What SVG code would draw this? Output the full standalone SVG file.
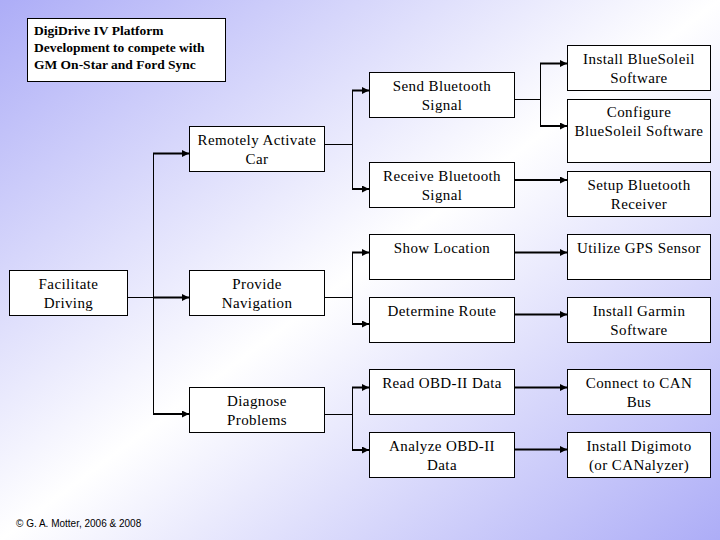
<svg xmlns="http://www.w3.org/2000/svg" width="720" height="540" viewBox="0 0 720 540">
<defs>
<linearGradient id="bg" x1="0" y1="0" x2="1" y2="1">
<stop offset="0" stop-color="#adadf7"/>
<stop offset="0.5" stop-color="#ffffff"/>
<stop offset="1" stop-color="#adadf7"/>
</linearGradient>
<marker id="ah" markerUnits="userSpaceOnUse" markerWidth="8" markerHeight="7" refX="7" refY="3.5" orient="auto">
<path d="M0,0 L7,3.5 L0,7 z" fill="#000"/>
</marker>
<style>
.box{fill:#fff;stroke:#000;stroke-width:1}
.t{font-family:"Liberation Serif","Times New Roman",serif;font-size:15px;letter-spacing:0.4px;text-anchor:middle;fill:#000}
.title{font-family:"Liberation Serif","Times New Roman",serif;font-size:13.5px;font-weight:bold;fill:#000}
.thin{stroke:#000;stroke-width:1;fill:none}
.arr{stroke:#000;stroke-width:2;fill:none;marker-end:url(#ah)}
.foot{font-family:"Liberation Sans",Arial,sans-serif;font-size:10px;fill:#000}
</style>
</defs>
<rect x="0" y="0" width="720" height="540" fill="url(#bg)"/>

<g id="title">
<rect class="box" x="27.5" y="18.5" width="198" height="63"/>
<text class="title" x="34" y="35">DigiDrive IV Platform</text>
<text class="title" x="34" y="52">Development to compete with</text>
<text class="title" x="34" y="69">GM On-Star and Ford Sync</text>
</g>

<g id="connectors">
<line class="thin" x1="127" y1="297.5" x2="153.5" y2="297.5"/>
<line class="thin" x1="153.5" y1="153" x2="153.5" y2="414.5"/>
<line class="arr" x1="153" y1="153.5" x2="189" y2="153.5"/>
<line class="arr" x1="153" y1="297.5" x2="189" y2="297.5"/>
<line class="arr" x1="153" y1="414" x2="189" y2="414"/>

<line class="thin" x1="324" y1="144.5" x2="352.5" y2="144.5"/>
<line class="thin" x1="352.5" y1="90" x2="352.5" y2="189.5"/>
<line class="arr" x1="352" y1="90.5" x2="369" y2="90.5"/>
<line class="arr" x1="352" y1="189" x2="369" y2="189"/>

<line class="thin" x1="514" y1="99.5" x2="540.5" y2="99.5"/>
<line class="thin" x1="540.5" y1="63" x2="540.5" y2="126.5"/>
<line class="arr" x1="540" y1="63.5" x2="567" y2="63.5"/>
<line class="arr" x1="540" y1="126" x2="567" y2="126"/>
<line class="arr" x1="514" y1="180" x2="567" y2="180"/>

<line class="thin" x1="324" y1="297.5" x2="352.5" y2="297.5"/>
<line class="thin" x1="352.5" y1="252" x2="352.5" y2="324.5"/>
<line class="arr" x1="352" y1="252.5" x2="369" y2="252.5"/>
<line class="arr" x1="352" y1="324" x2="369" y2="324"/>
<line class="arr" x1="514" y1="252.5" x2="567" y2="252.5"/>
<line class="arr" x1="514" y1="314.5" x2="567" y2="314.5"/>

<line class="thin" x1="324" y1="414.5" x2="352.5" y2="414.5"/>
<line class="thin" x1="352.5" y1="387" x2="352.5" y2="450.5"/>
<line class="arr" x1="352" y1="387.5" x2="369" y2="387.5"/>
<line class="arr" x1="352" y1="450" x2="369" y2="450"/>
<line class="arr" x1="514" y1="387.5" x2="567" y2="387.5"/>
<line class="arr" x1="514" y1="449.5" x2="567" y2="449.5"/>
</g>

<g id="facilitate">
<rect class="box" x="9.5" y="270.5" width="118" height="45"/>
<text class="t" x="68.5" y="289">Facilitate</text>
<text class="t" x="68.5" y="308">Driving</text>
</g>

<g id="remotely">
<rect class="box" x="189.5" y="126.5" width="135" height="45"/>
<text class="t" x="257" y="145">Remotely Activate</text>
<text class="t" x="257" y="164">Car</text>
</g>
<g id="provide">
<rect class="box" x="189.5" y="270.5" width="135" height="45"/>
<text class="t" x="257" y="289">Provide</text>
<text class="t" x="257" y="308">Navigation</text>
</g>
<g id="diagnose">
<rect class="box" x="189.5" y="387.5" width="135" height="45"/>
<text class="t" x="257" y="406">Diagnose</text>
<text class="t" x="257" y="425">Problems</text>
</g>

<g id="send">
<rect class="box" x="369.5" y="72.5" width="145" height="45"/>
<text class="t" x="442" y="91">Send Bluetooth</text>
<text class="t" x="442" y="110">Signal</text>
</g>
<g id="receive">
<rect class="box" x="369.5" y="162.5" width="145" height="45"/>
<text class="t" x="442" y="181">Receive Bluetooth</text>
<text class="t" x="442" y="200">Signal</text>
</g>
<g id="show">
<rect class="box" x="369.5" y="234.5" width="145" height="45"/>
<text class="t" x="442" y="253">Show Location</text>
</g>
<g id="determine">
<rect class="box" x="369.5" y="297.5" width="145" height="45"/>
<text class="t" x="442" y="316">Determine Route</text>
</g>
<g id="read">
<rect class="box" x="369.5" y="369.5" width="145" height="45"/>
<text class="t" x="442" y="388">Read OBD-II Data</text>
</g>
<g id="analyze">
<rect class="box" x="369.5" y="432.5" width="145" height="45"/>
<text class="t" x="442" y="451">Analyze OBD-II</text>
<text class="t" x="442" y="470">Data</text>
</g>

<g id="install-bluesoleil">
<rect class="box" x="567.5" y="45.5" width="143" height="45"/>
<text class="t" x="639" y="64">Install BlueSoleil</text>
<text class="t" x="639" y="83">Software</text>
</g>
<g id="configure">
<rect class="box" x="567.5" y="99.5" width="143" height="63"/>
<text class="t" x="639" y="117">Configure</text>
<text class="t" x="639" y="136">BlueSoleil Software</text>
</g>
<g id="setup">
<rect class="box" x="567.5" y="171.5" width="143" height="45"/>
<text class="t" x="639" y="190">Setup Bluetooth</text>
<text class="t" x="639" y="209">Receiver</text>
</g>
<g id="utilize">
<rect class="box" x="567.5" y="234.5" width="143" height="45"/>
<text class="t" x="639" y="253">Utilize GPS Sensor</text>
</g>
<g id="garmin">
<rect class="box" x="567.5" y="297.5" width="143" height="45"/>
<text class="t" x="639" y="316">Install Garmin</text>
<text class="t" x="639" y="335">Software</text>
</g>
<g id="connect">
<rect class="box" x="567.5" y="369.5" width="143" height="45"/>
<text class="t" x="639" y="388">Connect to CAN</text>
<text class="t" x="639" y="407">Bus</text>
</g>
<g id="digimoto">
<rect class="box" x="567.5" y="432.5" width="143" height="45"/>
<text class="t" x="639" y="451">Install Digimoto</text>
<text class="t" x="639" y="470">(or CANalyzer)</text>
</g>

<text class="foot" x="16" y="527">© G. A. Motter, 2006 &amp; 2008</text>
</svg>
